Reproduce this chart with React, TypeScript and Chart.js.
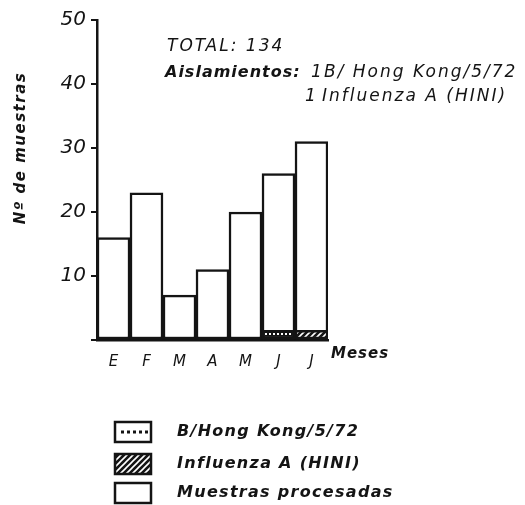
import React, { useEffect, useRef } from "react";
import { Chart, registerables } from "chart.js";

Chart.register(...registerables);

// ---- data ----
const months = ["E", "F", "M", "A", "M", "J", "J"];
const muestrasProcesadas = [16, 23, 7, 11, 20, 26, 31];
const bHongKong = [null, null, null, null, null, 1.5, null];
const influenzaA = [null, null, null, null, null, null, 1.5];
const yTickValues = [10, 20, 30, 40, 50];
const totalText = "TOTAL: 134";
const aislLabel = "Aislamientos:";
const aislLines = ["1", "B/ Hong Kong/5/72", "1", "Influenza A (HINI)"];
const legendLabels = ["B/Hong Kong/5/72", "Influenza A (HINI)", "Muestras procesadas"];
const yTitle = "Nº de muestras";
const xTitle = "Meses";

const INK = "#141414";
const FONT = '"DejaVu Sans"';

function makeDots(): CanvasPattern | string {
  const c = document.createElement("canvas");
  c.width = 4;
  c.height = 4;
  const g = c.getContext("2d");
  if (!g) return "#fff";
  g.fillStyle = INK;
  g.fillRect(0, 0, 4, 4);
  g.fillStyle = "#fff";
  g.fillRect(1, 1, 2, 2);
  return g.createPattern(c, "repeat") || "#fff";
}

function makeHatch(): CanvasPattern | string {
  const c = document.createElement("canvas");
  c.width = 6;
  c.height = 6;
  const g = c.getContext("2d");
  if (!g) return "#fff";
  g.fillStyle = INK;
  g.fillRect(0, 0, 6, 6);
  g.strokeStyle = "#fff";
  g.lineWidth = 1.6;
  g.beginPath();
  g.moveTo(-1, 7);
  g.lineTo(7, -1);
  g.moveTo(-4, 4);
  g.lineTo(4, -4);
  g.moveTo(2, 10);
  g.lineTo(10, 2);
  g.stroke();
  return g.createPattern(c, "repeat") || "#fff";
}

const annotations = {
  id: "annotations",
  afterDraw(chart: any) {
    const ctx: CanvasRenderingContext2D = chart.ctx;
    ctx.save();
    ctx.fillStyle = INK;
    ctx.textAlign = "left";
    ctx.textBaseline = "middle";

    (ctx as any).letterSpacing = "2px";
    ctx.font = `italic 17px ${FONT}`;
    ctx.fillText(totalText, 167, 47);

    (ctx as any).letterSpacing = "1px";
    ctx.font = `italic bold 16px ${FONT}`;
    ctx.fillText(aislLabel, 165, 73);
    (ctx as any).letterSpacing = "2px";
    ctx.font = `italic 17px ${FONT}`;
    ctx.fillText(aislLines[0], 311, 73);
    ctx.fillText(aislLines[1], 324, 73);
    ctx.fillText(aislLines[2], 305, 97);
    ctx.fillText(aislLines[3], 322, 97);

    // x-axis title
    (ctx as any).letterSpacing = "1px";
    ctx.font = `italic bold 15px ${FONT}`;
    ctx.fillText(xTitle, 331, 354);

    // y-axis title
    ctx.save();
    ctx.translate(21, 148);
    ctx.rotate(-Math.PI / 2);
    ctx.textAlign = "center";
    (ctx as any).letterSpacing = "1.5px";
    ctx.font = `italic bold 15px ${FONT}`;
    ctx.fillText(yTitle, 0, 0);
    ctx.restore();

    // legend
    const boxX = 115;
    const boxW = 36;
    const boxH = 20;
    const rows = [432, 464, 493];
    rows.forEach((cy, i) => {
      const top = cy - boxH / 2;
      ctx.fillStyle = i === 1 ? chart.data.datasets[1].backgroundColor : "#fff";
      ctx.fillRect(boxX, top, boxW, boxH);
      if (i === 0) {
        ctx.fillStyle = INK;
        for (let x = boxX + 6; x < boxX + boxW - 4; x += 6) ctx.fillRect(x, cy - 1.5, 3, 3);
      }
      ctx.strokeStyle = INK;
      ctx.lineWidth = 2.5;
      ctx.strokeRect(boxX, top, boxW, boxH);
      ctx.fillStyle = INK;
      (ctx as any).letterSpacing = "1.3px";
      ctx.font = `italic bold 16px ${FONT}`;
      ctx.fillText(legendLabels[i], 177, cy);
    });

    (ctx as any).letterSpacing = "0px";
    ctx.restore();
  },
};

export default function App() {
  const ref = useRef<HTMLCanvasElement>(null);

  useEffect(() => {
    if (!ref.current) return;
    const dots = makeDots();
    const hatch = makeHatch();
    const chart = new Chart(ref.current, {
      type: "bar",
      data: {
        labels: months,
        datasets: [
          {
            label: legendLabels[0],
            data: bHongKong as any,
            backgroundColor: dots as any,
            borderColor: INK,
            borderWidth: 2.5,
            borderSkipped: false,
            grouped: false,
            order: 0,
            categoryPercentage: 1,
            barPercentage: 1,
          },
          {
            label: legendLabels[1],
            data: influenzaA as any,
            backgroundColor: hatch as any,
            borderColor: INK,
            borderWidth: 2.5,
            borderSkipped: false,
            grouped: false,
            order: 1,
            categoryPercentage: 1,
            barPercentage: 1,
          },
          {
            label: legendLabels[2],
            data: muestrasProcesadas,
            backgroundColor: "#fff",
            borderColor: INK,
            borderWidth: 2.5,
            borderSkipped: false,
            grouped: false,
            order: 2,
            categoryPercentage: 1,
            barPercentage: 1,
          },
        ],
      },
      options: {
        responsive: false,
        animation: false,
        devicePixelRatio: 1,
        layout: { padding: { left: 0, top: 20, right: 197, bottom: 135 } },
        plugins: { legend: { display: false }, tooltip: { enabled: false } },
        scales: {
          x: {
            grid: { display: false },
            border: { display: true, color: INK, width: 2.5 },
            ticks: {
              color: INK,
              padding: 5,
              font: { family: "DejaVu Sans", style: "italic", size: 15 },
            },
            afterFit: (s: any) => {
              s.height = 30;
            },
          },
          y: {
            min: 0,
            max: 50,
            afterBuildTicks: (s: any) => {
              s.ticks = [0, ...yTickValues].map((v) => ({ value: v }));
            },
            grid: {
              drawOnChartArea: false,
              drawTicks: true,
              tickLength: 6,
              color: INK,
              lineWidth: 2,
            },
            border: { display: true, color: INK, width: 2.5 },
            ticks: {
              color: INK,
              padding: 5,
              font: { family: "DejaVu Sans", style: "italic", size: 20 },
              callback: (v: any) => (v === 0 ? "" : String(v)),
            },
            afterFit: (s: any) => {
              s.width = 97;
            },
          },
        },
      },
      plugins: [annotations],
    });
    return () => chart.destroy();
  }, []);

  return (
    <div style={{ position: "fixed", left: 0, top: 0, width: 525, height: 505, background: "#fff" }}>
      <canvas ref={ref} width={525} height={505} style={{ width: 525, height: 505 }} />
    </div>
  );
}
